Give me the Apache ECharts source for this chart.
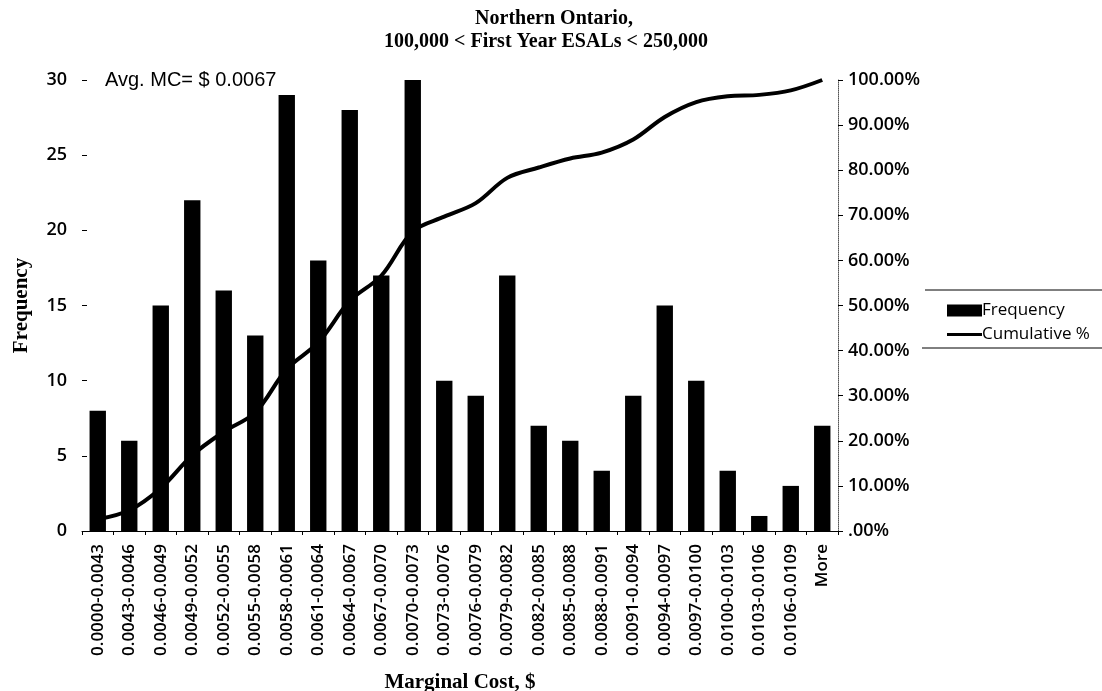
<!DOCTYPE html>
<html><head><meta charset="utf-8">
<script src="https://cdn.jsdelivr.net/npm/echarts@6/dist/echarts.min.js"></script>
<style>html,body{margin:0;padding:0;background:#fff;overflow:hidden}#c{width:1102px;height:691px}</style>
</head><body><div id="c"></div>
<script>
const categories = ['0.0000-0.0043','0.0043-0.0046','0.0046-0.0049','0.0049-0.0052','0.0052-0.0055','0.0055-0.0058','0.0058-0.0061','0.0061-0.0064','0.0064-0.0067','0.0067-0.0070','0.0070-0.0073','0.0073-0.0076','0.0076-0.0079','0.0079-0.0082','0.0082-0.0085','0.0085-0.0088','0.0088-0.0091','0.0091-0.0094','0.0094-0.0097','0.0097-0.0100','0.0100-0.0103','0.0103-0.0106','0.0106-0.0109','More'];
const frequency = [8,6,15,22,16,13,29,18,28,17,30,10,9,17,7,6,4,9,15,10,4,1,3,7];
const cumulative = [0.026,0.046,0.095,0.168,0.220,0.263,0.359,0.418,0.510,0.566,0.664,0.697,0.727,0.783,0.806,0.826,0.839,0.868,0.918,0.951,0.964,0.967,0.977,1.000];
const rightTickLabels = ['.00%','10.00%','20.00%','30.00%','40.00%','50.00%','60.00%','70.00%','80.00%','90.00%','100.00%'];
const leftTickLabels = ['0','5','10','15','20','25','30'];

const chart = echarts.init(document.getElementById('c'), null, {renderer:'canvas'});
const lblFont = {fontFamily:'Open Sans', fontWeight:600, fontSize:17, color:'#000'};
const titleFont = {fontFamily:'Liberation Serif', fontWeight:'bold', fontSize:20, color:'#000'};
chart.setOption({
  backgroundColor:'#fff',
  animation:false,
  title:[
    {text:'Northern Ontario,', left:549, top:4, textAlign:'center', textStyle:titleFont},
    {text:'100,000 < First Year ESALs < 250,000', left:541, top:27, textAlign:'center', textStyle:titleFont}
  ],
  legend:{
    orient:'vertical', left:942, top:297, itemGap:7, itemWidth:35, itemHeight:12,
    textStyle:{fontFamily:'Open Sans', fontSize:17, color:'#000', padding:[0,0,0,-5]},
    data:[
      {name:'Frequency', icon:'rect'},
      {name:'Cumulative %', icon:'path://M0,0L0.01,0L0,0.01ZM0,4.5L35,4.5L35,7.5L0,7.5ZM0,12L0.01,12L0,11.99Z'}
    ]
  },
  grid:{left:82, width:756, top:80, height:451, containLabel:false, outerBoundsMode:'none'},
  xAxis:{
    type:'category', data:categories,
    name:'Marginal Cost, $', nameLocation:'middle', nameGap:141,
    nameTextStyle:{fontFamily:'Liberation Serif', fontWeight:'bold', fontSize:21, color:'#000'},
    axisLine:{lineStyle:{color:'#000', width:1}},
    axisTick:{show:true, length:4, lineStyle:{color:'#000'}},
    axisLabel:Object.assign({rotate:90, interval:0, margin:13}, lblFont)
  },
  yAxis:[{
    type:'value', min:0, max:30, interval:5,
    name:'Frequency', nameLocation:'middle', nameGap:50, nameRotate:90,
    nameTextStyle:{fontFamily:'Liberation Serif', fontWeight:'bold', fontSize:21, color:'#000'},
    axisLine:{show:false},
    axisTick:{show:true, inside:true, length:5, lineStyle:{color:'#000'}},
    splitLine:{show:false},
    axisLabel:Object.assign({margin:15}, lblFont, {fontSize:18, formatter:(v)=>leftTickLabels[Math.round(v/5)]})
  },{
    type:'value', min:0, max:1, interval:0.1, position:'right',
    axisLine:{show:true, lineStyle:{color:'#555', type:'dotted', width:1}},
    axisTick:{show:true, length:5, lineStyle:{color:'#000'}},
    splitLine:{show:false},
    axisLabel:Object.assign({margin:10}, lblFont, {fontSize:18, formatter:(v)=>rightTickLabels[Math.round(v*10)]})
  }],
  series:[{
    name:'Frequency', type:'bar', data:frequency, yAxisIndex:0,
    barCategoryGap:'48%', itemStyle:{color:'#000'}
  },{
    name:'Cumulative %', type:'line', data:cumulative, yAxisIndex:1,
    smooth:0.35, symbol:'none', lineStyle:{color:'#000', width:4}, itemStyle:{color:'#000'}
  }],
  graphic:[
    {type:'text', left:105, top:70, style:{text:'Avg. MC= $ 0.0067', font:'20px "Liberation Sans"', fill:'#000'}},
    {type:'line', shape:{x1:925, y1:290, x2:1102, y2:290}, style:{stroke:'#000', lineWidth:1}},
    {type:'line', shape:{x1:922, y1:348, x2:1102, y2:348}, style:{stroke:'#000', lineWidth:1}}
  ]
});
</script></body></html>
